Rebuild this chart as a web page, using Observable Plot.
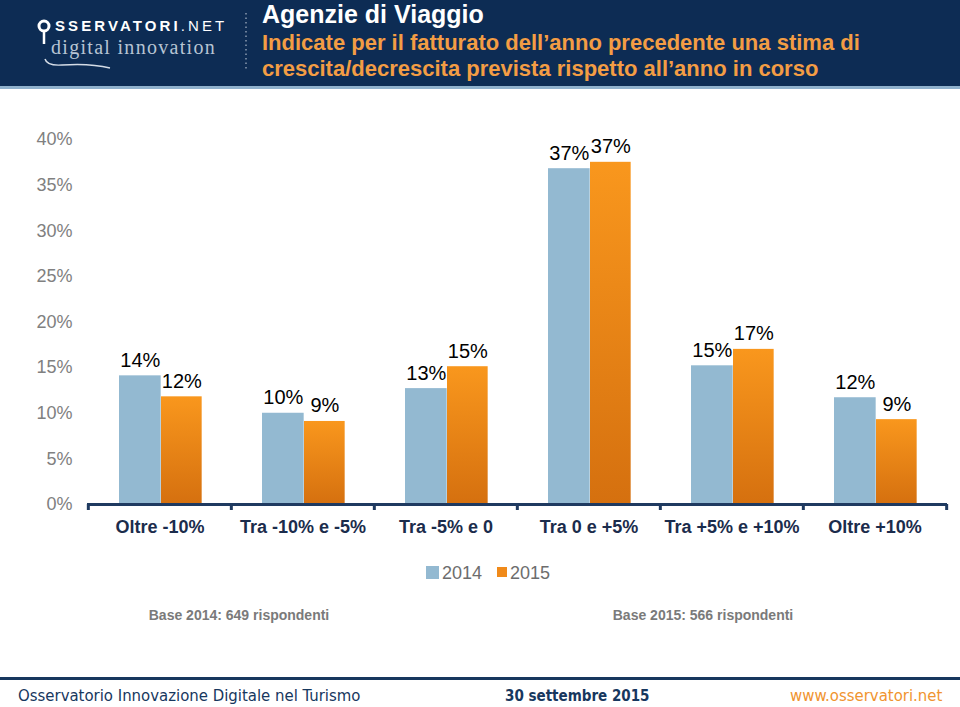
<!DOCTYPE html>
<html>
<head>
<meta charset="utf-8">
<script src="https://cdn.jsdelivr.net/npm/d3@7"></script>
<script src="https://cdn.jsdelivr.net/npm/@observablehq/plot@0.6"></script>
<style>
  body { margin: 0; width: 960px; height: 707px; position: relative; overflow: hidden; background: #fff; font-family: "Liberation Sans", Arial, sans-serif; }
  #header { position: absolute; left: 0; top: 0; width: 960px; height: 86px; background: #0d2c54; border-bottom: 3px solid #8fb1cc; }
  #title { position: absolute; left: 262px; top: 0px; color: #fff; font-weight: bold; font-size: 25px; line-height: 28px; white-space: nowrap; }
  #subtitle { position: absolute; left: 262px; top: 30px; color: #f39d44; font-weight: bold; font-size: 22px; line-height: 26px; white-space: nowrap; }
  #chart { position: absolute; left: 0; top: 100px; }
  .legend { position: absolute; top: 563px; font-size: 18px; color: #6d6d6d; line-height: 20px; white-space: nowrap; }
  .legend .sw { display: inline-block; vertical-align: middle; margin-right: 3px; position: relative; top: -2px; }
  .base { position: absolute; top: 607px; font-size: 14px; font-weight: bold; color: #7a7a7a; white-space: nowrap; transform: translateX(-50%); }
  #footline { position: absolute; left: 0; top: 677px; width: 960px; height: 3px; background: #17375e; }
  .foot { position: absolute; top: 686px; font-family: "DejaVu Sans Condensed", "DejaVu Sans", sans-serif; font-size: 16.6px; line-height: 20px; white-space: nowrap; }
</style>
</head>
<body>
<div id="header">
  <svg width="250" height="86" style="position:absolute;left:0;top:0">
    <circle cx="44" cy="26" r="5" fill="none" stroke="#fff" stroke-width="3"/>
    <line x1="44" y1="31" x2="44" y2="44" stroke="#fff" stroke-width="2.5"/>
    <text x="55" y="31" fill="#fff" font-family="Liberation Sans, Arial, sans-serif" font-weight="bold" font-size="15" letter-spacing="3.1">SSERVATORI<tspan font-weight="normal">.NET</tspan></text>
    <text x="51" y="54" fill="#b7c4d3" font-family="Liberation Serif, serif" font-size="20" letter-spacing="1.3">digital innovation</text>
    <path d="M45,59 Q47,66 62,65 Q90,63 110,68" stroke="#d4dce6" fill="none" stroke-width="1.5"/>
    <line x1="246" y1="13" x2="246" y2="70" stroke="#8a9ab0" stroke-width="1.5" stroke-dasharray="1.5,3"/>
  </svg>
  <div id="title">Agenzie di Viaggio</div>
  <div id="subtitle">Indicate per il fatturato dell’anno precedente una stima di<br>crescita/decrescita prevista rispetto all’anno in corso</div>
</div>
<div id="chart"></div>
<div class="legend" style="left:426px"><span class="sw" style="width:13px;height:13px;background:#93b9d1"></span>2014</div>
<div class="legend" style="left:497px"><span class="sw" style="width:10px;height:10px;background:#f08a1a"></span>2015</div>
<div class="base" id="base1" style="left:239px"></div>
<div class="base" id="base2" style="left:703px"></div>
<div id="footline"></div>
<div class="foot" style="left:18px;color:#17375e">Osservatorio Innovazione Digitale nel Turismo</div>
<div class="foot" style="left:505px;color:#17375e;font-weight:bold;font-size:15px">30 settembre 2015</div>
<div class="foot" style="left:790px;color:#f0942f">www.osservatori.net</div>
<script>
const categories = ["Oltre -10%", "Tra -10% e -5%", "Tra -5% e 0", "Tra 0 e +5%", "Tra +5% e +10%", "Oltre +10%"];
const values2014 = [14.1, 10.0, 12.7, 36.8, 15.2, 11.7];
const values2015 = [11.8, 9.1, 15.1, 37.5, 17.0, 9.3];
const labels2014 = ["14%", "10%", "13%", "37%", "15%", "12%"];
const labels2015 = ["12%", "9%", "15%", "37%", "17%", "9%"];
const yTicks = [0, 5, 10, 15, 20, 25, 30, 35, 40];
const baseNotes = ["Base 2014: 649 rispondenti", "Base 2015: 566 rispondenti"];

document.getElementById("base1").textContent = baseNotes[0];
document.getElementById("base2").textContent = baseNotes[1];

const d14 = categories.map((c, i) => ({category: c, value: values2014[i], label: labels2014[i]}));
const d15 = categories.map((c, i) => ({category: c, value: values2015[i], label: labels2015[i]}));

const W = 960, ML = 87, MR = 13;
const step = (W - ML - MR) / categories.length;
const inset14 = {insetLeft: 31, insetRight: step - 73};
const inset15 = {insetLeft: 73, insetRight: step - 114};
const dx14 = (inset14.insetLeft - inset14.insetRight) / 2;
const dx15 = (inset15.insetLeft - inset15.insetRight) / 2;
const navy = "#1f3a60";

const chart = Plot.plot({
  width: W, height: 450,
  marginLeft: ML, marginRight: MR, marginTop: 39, marginBottom: 46,
  style: {fontFamily: '"Liberation Sans", Arial, sans-serif', background: "transparent", overflow: "visible"},
  x: {domain: categories, padding: 0, label: null, tickSize: 0, tickPadding: 16},
  y: {domain: [0, 40], ticks: yTicks, tickFormat: d => d + "%", tickSize: 0, tickPadding: 15, label: null},
  marks: [
    Plot.barY(d14, {x: "category", y: "value", fill: "#93b9d1", ...inset14}),
    Plot.barY(d15, {x: "category", y: "value", fill: "url(#grad2015)", ...inset15}),
    Plot.ruleY([0], {stroke: navy, strokeWidth: 3}),
    Plot.ruleX(categories, {x: d => d, dx: -step / 2, y1: 0, y2: 0, insetBottom: -6, stroke: navy, strokeWidth: 3}),
    Plot.ruleX(categories.slice(-1), {x: d => d, dx: step / 2, y1: 0, y2: 0, insetBottom: -6, stroke: navy, strokeWidth: 3}),
    Plot.text(d14, {x: "category", y: "value", text: "label", dx: dx14, dy: -9, lineAnchor: "bottom", fontSize: 20, fill: "#000"}),
    Plot.text(d15, {x: "category", y: "value", text: "label", dx: dx15, dy: -9, lineAnchor: "bottom", fontSize: 20, fill: "#000"})
  ]
});

d3.select(chart).insert("defs", ":first-child").html(
  '<linearGradient id="grad2015" x1="0" y1="0" x2="0" y2="1">' +
  '<stop offset="0" stop-color="#f9971d"/><stop offset="1" stop-color="#d5700f"/></linearGradient>'
);
d3.select(chart).selectAll('[aria-label^="x-axis"] text')
  .style("font-size", "18px").style("font-weight", "bold").attr("fill", "#1b2c4c");
d3.select(chart).selectAll('[aria-label^="y-axis"] text')
  .style("font-size", "18px").attr("fill", "#808080");

document.getElementById("chart").appendChild(chart);
</script>
</body>
</html>
